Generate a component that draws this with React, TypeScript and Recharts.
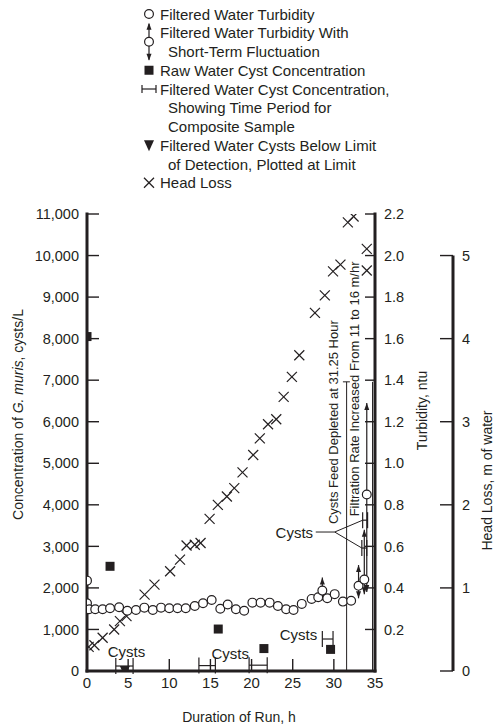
import React from "react";
import { ComposedChart, Scatter, XAxis, YAxis, ErrorBar, ReferenceLine } from "recharts";

const FONT = '"Liberation Sans", Arial, Helvetica, sans-serif';
const INK = "#231f20";
const TURB_W = 78;

// axes
const hourTicks = [0, 5, 10, 15, 20, 25, 30, 35];
const cystTicks = [0, 1000, 2000, 3000, 4000, 5000, 6000, 7000, 8000, 9000, 10000, 11000];
const turbTicks = [0.2, 0.4, 0.6, 0.8, 1.0, 1.2, 1.4, 1.6, 1.8, 2.0, 2.2];
const headTicks = [0, 1, 2, 3, 4, 5];

// filtered water turbidity, ntu
const turbHours = [0, 0, 0.25, 1.0, 1.9, 2.8, 3.9, 4.9, 5.95, 6.97, 8.0, 9.0, 10.0, 11.0, 12.0, 13.1, 14.1, 15.15, 16.2, 17.1, 18.1, 19.1, 20.1, 21.1, 22.2, 23.2, 24.2, 25.1, 26.1, 27.3, 28.1, 29.2, 30.1, 31.1, 32.1];
const turbValues = [0.435, 0.326, 0.297, 0.297, 0.297, 0.302, 0.307, 0.29, 0.294, 0.305, 0.294, 0.305, 0.302, 0.302, 0.302, 0.313, 0.326, 0.342, 0.3, 0.32, 0.297, 0.29, 0.329, 0.329, 0.329, 0.313, 0.297, 0.294, 0.323, 0.347, 0.355, 0.35, 0.37, 0.334, 0.338];

// turbidity with short-term fluctuation
const fluctHours = [28.6, 33.0, 33.7, 34.0];
const fluctValues = [0.387, 0.41, 0.44, 0.85];
const fluctHigh = [0.45, 0.51, 0.68, 1.29];
const fluctLow = [0.34, 0.35, 0.37, 0.38];

// raw water cysts, cysts/L
const rawHours = [0, 2.8, 15.95, 21.5, 29.6];
const rawCysts = [8050, 2520, 1010, 540, 520];

// filtered water composite samples (start h, end h, cysts/L)
const compStart = [3.5, 13.6, 19.7, 28.6, 33.4, 33.5];
const compEnd = [5.6, 15.6, 21.9, 29.9, 34.0, 34.1];
const compCysts = [120, 130, 140, 770, 2960, 3630];

// below detection limit
const bdlHours = [4.6];
const bdlCysts = [0];

// head loss, m of water
const hlHours = [0.2, 0.9, 1.9, 3.3, 4.0, 4.8, 7.0, 8.2, 10.1, 11.3, 12.1, 13.1, 13.8, 14.9, 15.9, 17.0, 17.9, 18.9, 20.2, 21.0, 22.0, 23.0, 23.9, 24.9, 25.8, 27.7, 28.9, 29.9, 30.8, 31.7, 32.4, 34.0, 34.0];
const hlValues = [0.29, 0.31, 0.4, 0.5, 0.6, 0.66, 0.92, 1.04, 1.2, 1.34, 1.51, 1.52, 1.54, 1.83, 2.0, 2.1, 2.2, 2.39, 2.6, 2.8, 2.97, 3.03, 3.3, 3.54, 3.8, 4.31, 4.52, 4.81, 4.89, 5.4, 5.47, 5.08, 4.82];

// annotations
const noteText = ["Cysts", "Cysts", "Cysts", "Cysts", "Cysts Feed Depleted at 31.25 Hour", "Filtration Rate Increased From 11 to 16 m/hr"];
const noteHours = [4.8, 17.4, 25.7, 25.2, 29.95, 32.55];
const noteCysts = [460, 430, 890, 3345, 5990, 6790];
const noteAngle = [0, 0, 0, 0, -90, -90];

const turbData = turbHours.map((h, i) => ({ h, v: turbValues[i] }));
const fluctData = fluctHours.map((h, i) => ({ h, v: fluctValues[i], ey: [fluctValues[i] - fluctLow[i], fluctHigh[i] - fluctValues[i]] }));
const fluctUp = fluctHours.map((h, i) => ({ h, v: fluctHigh[i] }));
const fluctDown = fluctHours.map((h, i) => ({ h, v: fluctLow[i] }));
const rawData = rawHours.map((h, i) => ({ h, v: rawCysts[i] }));
const compData = compStart.map((s, i) => ({ h: (s + compEnd[i]) / 2, v: compCysts[i], ex: (compEnd[i] - s) / 2 }));
const bdlData = bdlHours.map((h, i) => ({ h, v: bdlCysts[i] }));
const hlData = hlHours.map((h, i) => ({ h, v: hlValues[i] }));
const noteData = noteText.map((text, i) => ({ h: noteHours[i], v: noteCysts[i], text, angle: noteAngle[i] }));

const Circle = (p: any) => <circle cx={p.cx} cy={p.cy} r={4.4} fill="#fff" stroke={INK} strokeWidth={1.2} />;
const Square = (p: any) => <rect x={p.cx - 4.5} y={p.cy - 4.5} width={9} height={9} fill={INK} />;
const Cross = (p: any) => (
  <g stroke={INK} strokeWidth={1.2}>
    <line x1={p.cx - 5} y1={p.cy - 5} x2={p.cx + 5} y2={p.cy + 5} />
    <line x1={p.cx - 5} y1={p.cy + 5} x2={p.cx + 5} y2={p.cy - 5} />
  </g>
);
const TriDown = (p: any) => <polygon points={`${p.cx - 5},${p.cy - 5} ${p.cx + 5},${p.cy - 5} ${p.cx},${p.cy + 6}`} fill={INK} />;
const HeadUp = (p: any) => <polygon points={`${p.cx},${p.cy} ${p.cx - 2.5},${p.cy + 7} ${p.cx + 2.5},${p.cy + 7}`} fill={INK} />;
const HeadDown = (p: any) => <polygon points={`${p.cx},${p.cy} ${p.cx - 2.5},${p.cy - 7} ${p.cx + 2.5},${p.cy - 7}`} fill={INK} />;
const Empty = () => <g />;
const Note = (p: any) => {
  const { cx, cy, payload } = p;
  const rotated = payload.angle !== 0;
  return (
    <text
      x={cx}
      y={cy}
      transform={rotated ? `rotate(${payload.angle} ${cx} ${cy})` : undefined}
      textAnchor="middle"
      dominantBaseline="central"
      fontFamily={FONT}
      fontSize={rotated ? 13 : 15}
      fill={INK}
    >
      {payload.text}
    </text>
  );
};

// head loss axis line only runs 0..5, drawn one turbidity-axis width to the right of the plot edge
const HeadAxisLine = (p: any) => (
  <line x1={p.x1 + TURB_W} y1={p.y1} x2={p.x2 + TURB_W} y2={p.y2} stroke={INK} strokeWidth={3} />
);

const axisStroke = { stroke: INK, strokeWidth: 3, strokeLinecap: "square" as const };
const tickStroke = { stroke: INK, strokeWidth: 1.4 };
const tickFont = { fontFamily: FONT, fontSize: 14.5, fill: INK };

const leftTitle = (p: any) => {
  const vb = p.viewBox;
  const cx = vb.x + 18;
  const cy = vb.y + vb.height / 2 - 28;
  return (
    <text transform={`translate(${cx},${cy}) rotate(-90)`} textAnchor="middle" dominantBaseline="central" fontFamily={FONT} fontSize={14} fill={INK}>
      Concentration of <tspan fontStyle="italic">G. muris</tspan>, cysts/L
    </text>
  );
};
const turbTitle = (p: any) => {
  const vb = p.viewBox;
  const cx = vb.x + 47;
  const cy = vb.y + vb.height / 2 - 32;
  return (
    <text transform={`translate(${cx},${cy}) rotate(-90)`} textAnchor="middle" dominantBaseline="central" fontFamily={FONT} fontSize={14} fill={INK}>
      Turbidity, ntu
    </text>
  );
};
const headTitle = (p: any) => {
  const vb = p.viewBox;
  const cx = vb.x + 34;
  const cy = vb.y + vb.height / 2 + 38;
  return (
    <text transform={`translate(${cx},${cy}) rotate(-90)`} textAnchor="middle" dominantBaseline="central" fontFamily={FONT} fontSize={14} fill={INK}>
      Head Loss, m of water
    </text>
  );
};
const xTitle = (p: any) => {
  const vb = p.viewBox;
  return (
    <text x={vb.x + vb.width / 2 + 8} y={vb.y + 46} textAnchor="middle" dominantBaseline="central" fontFamily={FONT} fontSize={14} fill={INK}>
      Duration of Run, h
    </text>
  );
};

const legendRows = [
  { sym: "circle", lines: ["Filtered Water Turbidity"] },
  { sym: "fluct", lines: ["Filtered Water Turbidity With", "Short-Term Fluctuation"] },
  { sym: "square", lines: ["Raw Water Cyst Concentration"] },
  { sym: "bracket", lines: ["Filtered Water Cyst Concentration,", "Showing Time Period for", "Composite Sample"] },
  { sym: "tri", lines: ["Filtered Water Cysts Below Limit", "of Detection, Plotted at Limit"] },
  { sym: "cross", lines: ["Head Loss"] },
];

function LegendBlock() {
  const sx = 149;
  const tx = 160;
  const indent = 168;
  const lh = 18.75;
  let row = 0;
  const out: React.ReactNode[] = [];
  legendRows.forEach((item, k) => {
    const cy = 14 + row * lh;
    const c = { cx: sx, cy };
    let sym: React.ReactNode = null;
    if (item.sym === "circle") sym = <Circle {...c} />;
    if (item.sym === "square") sym = <Square {...c} />;
    if (item.sym === "cross") sym = <Cross {...c} />;
    if (item.sym === "tri") sym = <TriDown {...c} />;
    if (item.sym === "bracket")
      sym = (
        <g stroke={INK} strokeWidth={1.2}>
          <line x1={sx - 7} y1={cy} x2={sx + 7} y2={cy} />
          <line x1={sx - 7} y1={cy - 4} x2={sx - 7} y2={cy + 4} />
          <line x1={sx + 7} y1={cy - 4} x2={sx + 7} y2={cy + 4} />
        </g>
      );
    if (item.sym === "fluct") {
      const mid = cy + 9;
      sym = (
        <g>
          <line x1={sx} y1={cy - 9} x2={sx} y2={cy + 27} stroke={INK} strokeWidth={1.2} />
          <HeadUp cx={sx} cy={cy - 10} />
          <HeadDown cx={sx} cy={cy + 28} />
          <Circle cx={sx} cy={mid} />
        </g>
      );
    }
    out.push(<g key={"s" + k}>{sym}</g>);
    item.lines.forEach((t, j) => {
      out.push(
        <text key={`t${k}-${j}`} x={j === 0 ? tx : indent} y={14 + (row + j) * lh} dominantBaseline="central" fontFamily={FONT} fontSize={15} fill={INK}>
          {t}
        </text>
      );
    });
    row += item.lines.length;
  });
  return (
    <svg width={500} height={200} style={{ position: "absolute", left: 0, top: 0 }}>
      {out}
    </svg>
  );
}

export default function App() {
  return (
    <div style={{ position: "absolute", left: 0, top: 0, width: 500, height: 726, background: "#fff" }}>
      <ComposedChart width={500} height={726} margin={{ top: 214, right: 0, bottom: 0, left: 0 }}>
        <XAxis
          dataKey="h"
          type="number"
          domain={[0, 35]}
          allowDataOverflow
          ticks={hourTicks}
          interval={0}
          height={55}
          tickSize={-12}
          tickMargin={18}
          axisLine={axisStroke}
          tickLine={tickStroke}
          tick={{ ...tickFont, fontSize: 15 }}
          label={{ content: xTitle }}
        />
        <YAxis
          yAxisId="c"
          type="number"
          domain={[0, 11000]}
          allowDataOverflow
          ticks={cystTicks}
          interval={0}
          width={87}
          tickSize={-12}
          tickMargin={20}
          axisLine={axisStroke}
          tickLine={tickStroke}
          tick={tickFont}
          tickFormatter={(v: number) => v.toLocaleString("en-US")}
          label={{ content: leftTitle }}
        />
        <YAxis
          yAxisId="r1"
          orientation="right"
          type="number"
          domain={[0, 2.2]}
          allowDataOverflow
          ticks={turbTicks}
          interval={0}
          width={TURB_W}
          tickSize={-10}
          tickMargin={19}
          axisLine={axisStroke}
          tickLine={tickStroke}
          tick={tickFont}
          tickFormatter={(v: number) => v.toFixed(1)}
          label={{ content: turbTitle }}
        />
        <YAxis
          yAxisId="r2"
          orientation="right"
          type="number"
          domain={[0, 5.5]}
          allowDataOverflow
          ticks={headTicks}
          interval={0}
          width={47}
          tickSize={-13}
          tickMargin={22}
          axisLine={false}
          tickLine={tickStroke}
          tick={tickFont}
          label={{ content: headTitle }}
        />

        <ReferenceLine yAxisId="r2" segment={[{ x: 35, y: 0 }, { x: 35, y: 5 }]} shape={HeadAxisLine} />

        {/* event lines and leaders */}
        <ReferenceLine yAxisId="c" segment={[{ x: 31.55, y: 0 }, { x: 31.55, y: 6960 }]} stroke={INK} strokeWidth={1} />
        <ReferenceLine yAxisId="c" segment={[{ x: 31.1, y: 6960 }, { x: 31.95, y: 6960 }]} stroke={INK} strokeWidth={1} />
        <ReferenceLine yAxisId="c" segment={[{ x: 34.7, y: 0 }, { x: 34.7, y: 6960 }]} stroke={INK} strokeWidth={1} />
        <ReferenceLine yAxisId="c" segment={[{ x: 27.8, y: 3345 }, { x: 30.1, y: 3345 }]} stroke={INK} strokeWidth={1} />
        <ReferenceLine yAxisId="c" segment={[{ x: 30.1, y: 3345 }, { x: 33.4, y: 2960 }]} stroke={INK} strokeWidth={1} />
        <ReferenceLine yAxisId="c" segment={[{ x: 30.1, y: 3345 }, { x: 33.5, y: 3630 }]} stroke={INK} strokeWidth={1} />

        <Scatter yAxisId="r2" data={hlData} dataKey="v" shape={Cross} isAnimationActive={false} />
        <Scatter yAxisId="c" data={compData} dataKey="v" shape={Empty} isAnimationActive={false}>
          <ErrorBar dataKey="ex" direction="x" width={8} stroke={INK} strokeWidth={1.2} isAnimationActive={false} />
        </Scatter>
        <Scatter yAxisId="c" data={rawData} dataKey="v" shape={Square} isAnimationActive={false} />
        <Scatter yAxisId="c" data={bdlData} dataKey="v" shape={TriDown} isAnimationActive={false} />
        <Scatter yAxisId="r1" data={fluctData} dataKey="v" shape={Empty} isAnimationActive={false}>
          <ErrorBar dataKey="ey" direction="y" width={0} stroke={INK} strokeWidth={1.2} isAnimationActive={false} />
        </Scatter>
        <Scatter yAxisId="r1" data={fluctUp} dataKey="v" shape={HeadUp} isAnimationActive={false} />
        <Scatter yAxisId="r1" data={fluctDown} dataKey="v" shape={HeadDown} isAnimationActive={false} />
        <Scatter yAxisId="r1" data={turbData} dataKey="v" shape={Circle} isAnimationActive={false} />
        <Scatter yAxisId="r1" data={fluctData} dataKey="v" shape={Circle} isAnimationActive={false} />
        <Scatter yAxisId="c" data={noteData} dataKey="v" shape={Note} isAnimationActive={false} />
      </ComposedChart>
      <LegendBlock />
    </div>
  );
}
